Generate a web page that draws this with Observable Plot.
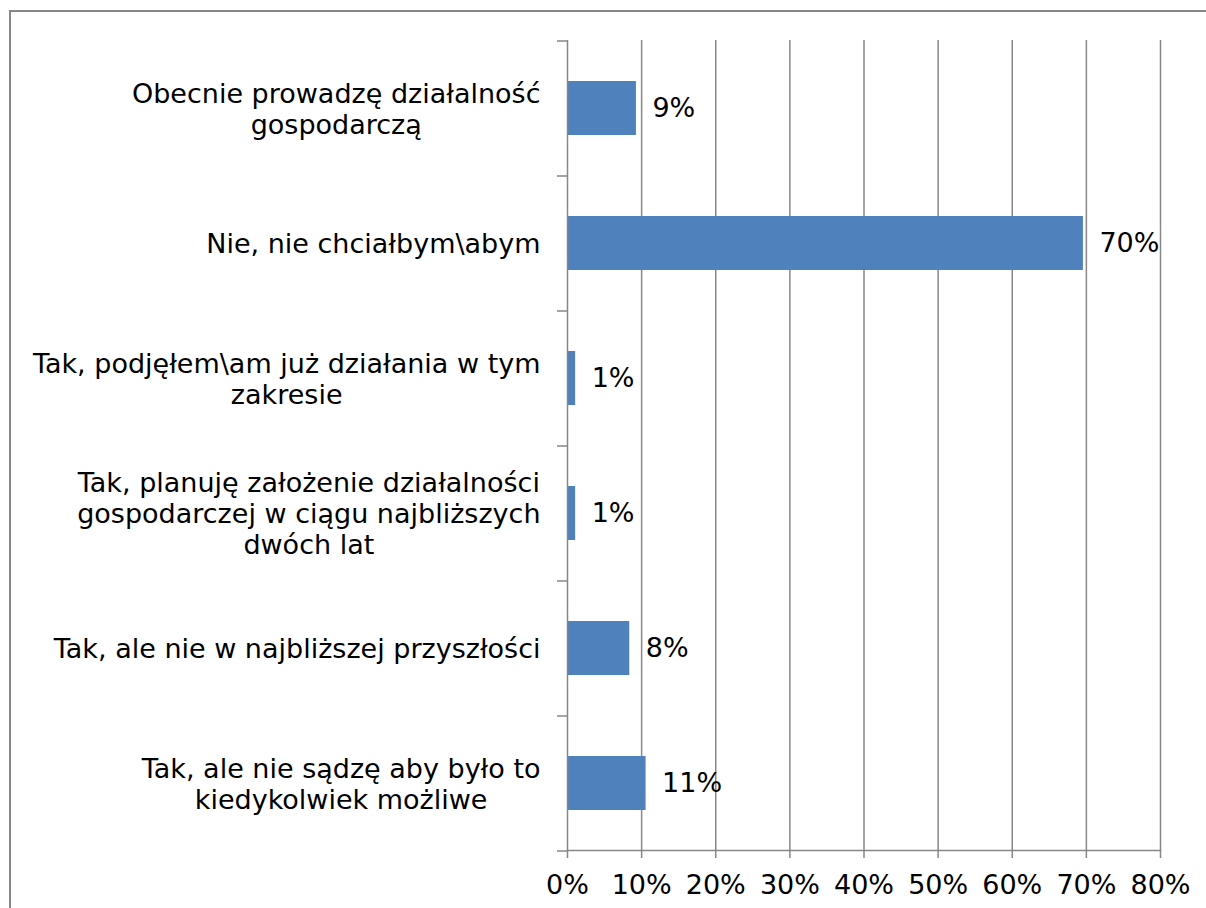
<!DOCTYPE html>
<html>
<head>
<meta charset="utf-8">
<script src="https://cdn.jsdelivr.net/npm/d3@7"></script>
<script src="https://cdn.jsdelivr.net/npm/@observablehq/plot@0.6"></script>
<style>
  html, body { margin: 0; padding: 0; background: #fff; overflow: hidden; }
  #wrap { position: relative; width: 1206px; height: 908px; overflow: hidden; }
  #border { position: absolute; left: 9px; top: 10px; width: 1300px; height: 1000px;
            border-left: 2px solid #878787; border-top: 2px solid #878787; box-sizing: border-box; }
  #chart { position: absolute; left: 0; top: 0; }
</style>
</head>
<body>
<div id="wrap"><div id="border"></div><div id="chart"></div></div>
<script>
const categories = [
  "Obecnie prowadzę działalność gospodarczą",
  "Nie, nie chciałbym\\abym",
  "Tak, podjęłem\\am już działania w tym zakresie",
  "Tak, planuję założenie działalności gospodarczej w ciągu najbliższych dwóch lat",
  "Tak, ale nie w najbliższej przyszłości",
  "Tak, ale nie sądzę aby było to kiedykolwiek możliwe"
];
const categoryLabels = [
  "Obecnie prowadzę działalność\ngospodarczą",
  "Nie, nie chciałbym\\abym",
  "Tak, podjęłem\\am już działania w tym\nzakresie",
  "Tak, planuję założenie działalności\ngospodarczej w ciągu najbliższych\ndwóch lat",
  "Tak, ale nie w najbliższej przyszłości",
  "Tak, ale nie sądzę aby było to\nkiedykolwiek możliwe"
];
const values = [9.3, 69.6, 1.1, 1.1, 8.4, 10.6];
const valueLabels = ["9%", "70%", "1%", "1%", "8%", "11%"];
const xTicks = [0, 10, 20, 30, 40, 50, 60, 70, 80];

const data = categories.map((c, i) => ({cat: c, value: values[i], label: valueLabels[i], tick: categoryLabels[i]}));

const FS = 27;
const ctx = document.createElement("canvas").getContext("2d");
ctx.font = FS + "px 'DejaVu Sans'";
const labelWidth = s => Math.max(...s.split("\n").map(l => ctx.measureText(l).width));

const W = 1206, H = 908, mT = 40, mB = 58, mL = 567, mR = 46;
const halfStep = (H - mT - mB) / categories.length / 2;
const gray = "#878787";

const labelMarks = data.map(d => Plot.text([d], {
  x: () => 0, y: "cat", text: "tick",
  textAnchor: "middle", lineHeight: 1.15,
  dx: -(27 + labelWidth(d.tick) / 2),
  fill: "#000", fontSize: FS
}));

const chart = Plot.plot({
  width: W, height: H,
  marginTop: mT, marginBottom: mB, marginLeft: mL, marginRight: mR,
  style: {fontFamily: "'DejaVu Sans'", fontSize: FS + "px", background: "transparent", color: "#000"},
  x: {domain: [0, 80], label: null},
  y: {domain: categories, paddingInner: 0.6, paddingOuter: 0.3, axis: null, label: null},
  marks: [
    Plot.gridX(xTicks.slice(1), {stroke: gray, strokeOpacity: 1, strokeWidth: 1.5}),
    Plot.barX(data, {x: "value", y: "cat", fill: "#4F81BD"}),
    Plot.ruleX([0], {stroke: gray, strokeWidth: 1.5}),
    Plot.frame({anchor: "bottom", stroke: gray, strokeWidth: 1.5}),
    Plot.axisX({ticks: xTicks, tickSize: 8, tickPadding: 16, tickFormat: d => d + "%",
                stroke: gray, strokeWidth: 1.5, fill: "#000", fontSize: FS, label: null}),
    Plot.axisY({ticks: categories, tickSize: 10, tickFormat: () => "", dy: -halfStep,
                stroke: gray, strokeWidth: 1.5, label: null}),
    Plot.axisY({ticks: [categories[categories.length - 1]], tickSize: 10, tickFormat: () => "", dy: halfStep,
                stroke: gray, strokeWidth: 1.5, label: null}),
    ...labelMarks,
    Plot.text(data, {x: "value", y: "cat", text: "label", textAnchor: "start", dx: 16, fill: "#000", fontSize: FS})
  ]
});
document.getElementById("chart").appendChild(chart);
</script>
</body>
</html>
